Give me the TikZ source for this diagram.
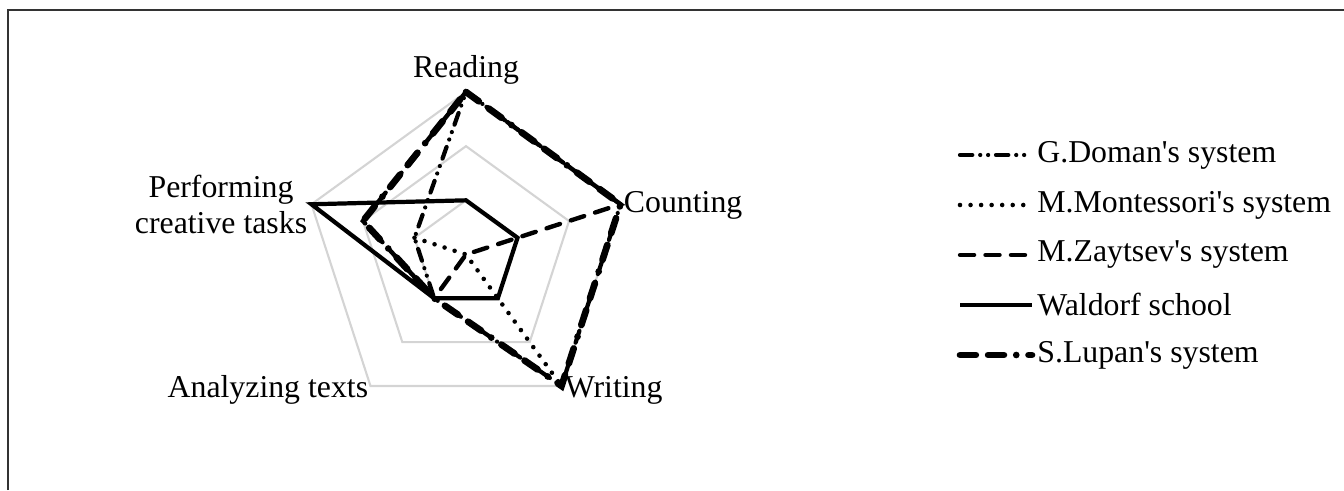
\documentclass[tikz,border=0pt]{standalone}
\usepackage{fontspec}
\setmainfont{Liberation Serif}[Ligatures=TeXOff]
\usetikzlibrary{positioning,calc}

\tikzset{
  lbl/.style={inner sep=0pt,font=\fontsize{18.1}{20.5}\selectfont},
  gridring/.style={draw=black!17,line width=1.2pt},
  doman/.style={line width=2.4pt,line cap=round,dash pattern=on 7pt off 4.5pt on 0pt off 4.5pt on 0pt off 4.5pt},
  monte/.style={line width=2.6pt,line cap=round,dash pattern=on 0pt off 6pt},
  zayt/.style={line width=2.5pt,line cap=round,dash pattern=on 8pt off 6.5pt},
  waldorf/.style={line width=2.4pt},
  lupan/.style={line width=3.8pt,line cap=round,dash pattern=on 9pt off 7pt on 9pt off 7pt on 0pt off 7pt}
}

\begin{document}
\begin{tikzpicture}[x=0.02cm,y=0.02cm]
\useasboundingbox (0,0) rectangle (1344,490);
\draw[line width=1.1pt,black!80] (8,0)--(8,480)--(1344,480);

\coordinate (c) at (466,235.5);
\foreach \ang [count=\i] in {90,18,-54,-126,162}{
  \foreach \k in {1,2,3}
    \coordinate (a\i-\k) at ($(c)+(\ang:\k*54.1667)$);
}

% rings
\foreach \k in {1,2,3}
  \draw[gridring] (a1-\k)--(a2-\k)--(a3-\k)--(a4-\k)--(a5-\k)--cycle;

% axis labels
\node[lbl,above=4pt of a1-3] (read) {Reading};
\node[lbl,anchor=west] (count) at ($(a2-3)+(3,-1)$) {Counting};
\node[lbl,anchor=west] (writ) at ($(a3-3)+(3,-4)$) {Writing};
\node[lbl,anchor=east] (anal) at ($(a4-3)+(-2,-4)$) {Analyzing texts};
\node[lbl,anchor=east,align=center] (perf) at ($(a5-3)+(-4,0)$) {Performing\\creative tasks};

% series
\draw[doman] (a1-3)--(a2-3)--(a3-3)--(a4-1)--(a5-1)--cycle;
\draw[monte] (a5-1)--(c)--(a3-3);
\draw[zayt] (a1-3)--(a2-3)--(c)--(a4-1)--(a5-2)--cycle;
\draw[waldorf] (a1-1)--(a2-1)--(a3-1)--(a4-1)--(a5-3)--cycle;
\draw[lupan] (a1-3)--(a2-3)--(a3-3)--(a4-1)--(a5-2)--cycle;

% legend
\foreach \s/\t [count=\j] in {doman/G.Doman's system,monte/M.Montessori's system,zayt/M.Zaytsev's system,waldorf/Waldorf school,lupan/S.Lupan's system}{
  \node[lbl,anchor=west] (leg\j) at (1037,385-\j*50) {\t};
  \coordinate (ls\j) at (960,385-\j*50);
  \coordinate (le\j) at (1032,385-\j*50);
  \draw[style=\s] (ls\j)--(le\j);
}
\end{tikzpicture}
\end{document}
